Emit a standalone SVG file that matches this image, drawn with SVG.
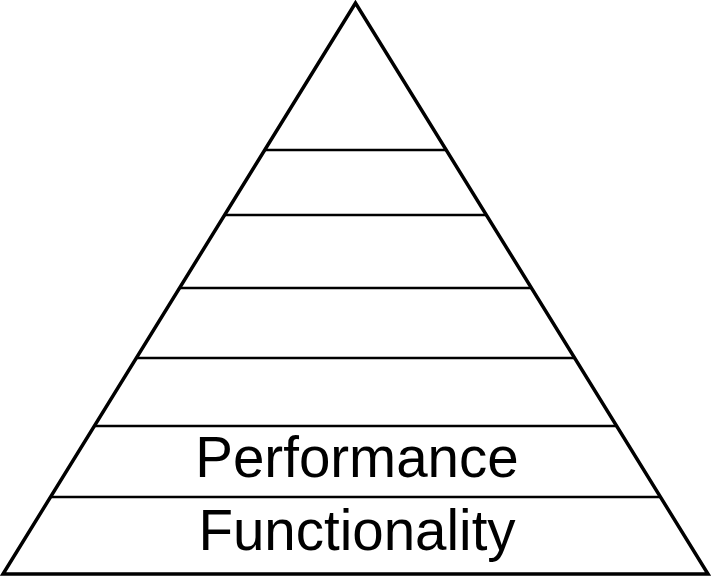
<svg xmlns="http://www.w3.org/2000/svg" width="712" height="577" viewBox="0 0 712 577">
<style>
.edge{stroke:#000;stroke-width:3.5;fill:none;stroke-linejoin:miter}
.tier{stroke:#000;stroke-width:2.5;fill:none}
.lbl{font-family:"Liberation Sans",Arial,sans-serif;font-size:56.5px;fill:#000;text-anchor:middle}
</style>
<rect width="712" height="577" fill="#fff"/>
<g id="pyramid">
<polygon class="edge" points="355.5,3 3,574 708,574"/>
</g>
<g id="connectors">
<line class="tier" x1="264" y1="150" x2="446" y2="150"/>
<line class="tier" x1="224" y1="215" x2="487" y2="215"/>
<line class="tier" x1="180" y1="288" x2="531" y2="288"/>
<line class="tier" x1="136" y1="358" x2="575" y2="358"/>
<line class="tier" x1="94" y1="426" x2="617" y2="426"/>
<line class="tier" x1="51" y1="497" x2="661" y2="497"/>
</g>
<g id="performance"><text class="lbl" x="357" y="477">Performance</text></g>
<g id="functionality"><text class="lbl" x="357" y="550">Functionality</text></g>
</svg>
